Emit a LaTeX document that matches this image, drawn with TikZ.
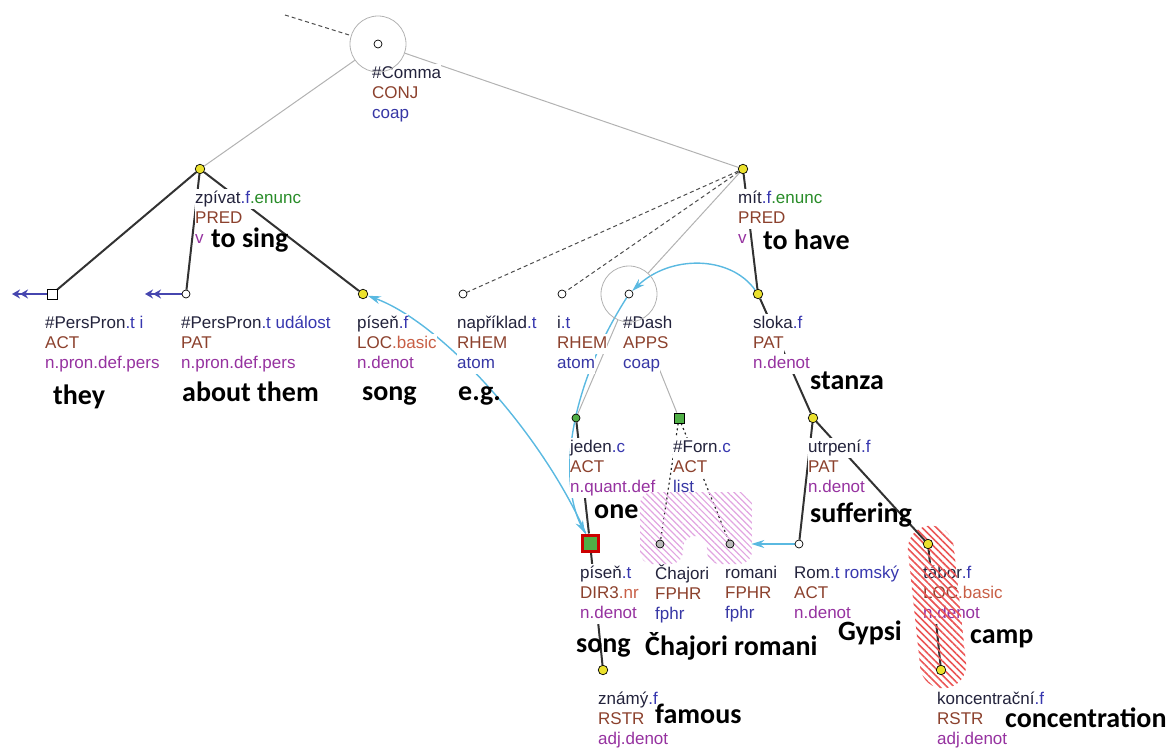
\documentclass[tikz,border=0pt]{standalone}
\usepackage{fontspec}
\setmainfont{Liberation Sans}
\newfontfamily\carl{Carlito}
\usetikzlibrary{arrows.meta,positioning,patterns.meta,shapes.misc}
\definecolor{lemc}{RGB}{35,35,60}
\definecolor{sufc}{RGB}{55,55,175}
\definecolor{envc}{RGB}{40,140,40}
\definecolor{func}{RGB}{140,65,45}
\definecolor{subc}{RGB}{200,95,70}
\definecolor{posc}{RGB}{150,50,160}
\definecolor{coac}{RGB}{55,55,165}
\definecolor{edgec}{RGB}{50,50,50}
\definecolor{auxc}{RGB}{178,178,178}
\definecolor{corefc}{RGB}{90,185,225}
\definecolor{ptrc}{RGB}{70,70,175}
\definecolor{nodey}{RGB}{235,225,45}
\definecolor{nodeg}{RGB}{80,175,70}
\definecolor{pinkh}{RGB}{225,165,225}
\definecolor{redh}{RGB}{235,85,85}
\newcommand{\wb}[1]{{\fboxsep=0pt\colorbox{white}{\strut#1}}}
\newcommand{\tlab}[3]{\wb{#1}\\\wb{#2}\\\wb{#3}}
\newcommand{\tlem}[1]{\textcolor{lemc}{#1}}
\newcommand{\tsuf}[1]{\textcolor{sufc}{#1}}
\newcommand{\tenv}[1]{\textcolor{envc}{#1}}
\newcommand{\tfun}[1]{\textcolor{func}{#1}}
\newcommand{\tsub}[1]{\textcolor{subc}{#1}}
\newcommand{\tpos}[1]{\textcolor{posc}{#1}}
\newcommand{\tcoa}[1]{\textcolor{coac}{#1}}
\pgfdeclarelayer{edges}
\pgfdeclarelayer{labels}
\pgfdeclarelayer{hatch}
\pgfsetlayers{edges,labels,hatch,main}

\begin{document}
\begin{tikzpicture}[x=1pt, y=-1pt,
    ydot/.style={circle, draw=black, line width=0.7pt, fill=nodey, inner sep=0pt, minimum size=9.5pt},
    wdot/.style={ydot, fill=white, minimum size=8pt},
    gdot/.style={ydot, fill=nodeg, minimum size=8pt},
    grdot/.style={ydot, fill=gray!55, minimum size=8pt},
    wsq/.style={rectangle, draw=black, line width=0.7pt, fill=white, inner sep=0pt, minimum size=10pt},
    gsq/.style={wsq, fill=nodeg},
    rsq/.style={rectangle, draw=red!80!black, line width=3pt, fill=nodeg, inner sep=0pt, minimum size=16pt},
    ring/.style={circle, draw=auxc, line width=0.8pt, inner sep=0pt, minimum size=56pt},
    lab/.style={align=left, inner sep=0pt, font=\fontsize{17}{20}\selectfont},
    eng/.style={anchor=base west, inner sep=0pt, font=\carl\bfseries\fontsize{28}{30}\selectfont},
    tedge/.style={draw=edgec, line width=2pt},
    auxe/.style={draw=auxc, line width=1pt},
    hide/.style={draw=gray!60!black, line width=1pt, dash pattern=on 4pt off 3pt},
    memb/.style={draw=gray!30!black, line width=1.2pt, dash pattern=on 2pt off 3pt},
    coref/.style={draw=corefc, line width=1.4pt, -{Stealth[length=13pt,width=8pt]}},
    ptr/.style={draw=ptrc, line width=1.4pt, -{Stealth[length=8pt,width=9pt]Stealth[length=8pt,width=9pt]}},
    pinkhatch/.style={pattern={Lines[angle=-45,distance=4.5pt,line width=1.2pt]}, pattern color=pinkh},
    redhatch/.style={pattern={Lines[angle=-45,distance=5pt,line width=1.6pt]}, pattern color=redh}]
    \useasboundingbox (0,0) rectangle (1176,751);
    % tree nodes
    \node[wdot] (comma) at (378,44) {};
    \node[ring] (comma-r) at (comma) {};
    \node[ydot] (zpivat) at (200,169) {};
    \node[ydot] (mit) at (743,169) {};
    \node[wsq] (ppi) at (52,294) {};
    \node[wdot] (ppu) at (186,294) {};
    \node[ydot] (pisenf) at (363,294) {};
    \node[wdot] (napr) at (463,294) {};
    \node[wdot] (it) at (562,294) {};
    \node[wdot] (dash) at (629,294) {};
    \node[ring] (dash-r) at (dash) {};
    \node[ydot] (sloka) at (758,294) {};
    \node[gdot] (jeden) at (576,418) {};
    \node[gsq] (forn) at (679,418) {};
    \node[ydot] (utrpeni) at (813,418) {};
    \node[rsq] (pisent) at (590,543) {};
    \node[grdot] (chaj) at (660,544) {};
    \node[grdot] (romani) at (730,544) {};
    \node[wdot] (rom) at (799,544) {};
    \node[ydot] (tabor) at (928,544) {};
    \node[ydot] (znamy) at (603,670) {};
    \node[ydot] (konc) at (941,670) {};
    \coordinate (comma-up) at (285,15);
    \coordinate (ppi-out) at (12,294);
    \coordinate (ppu-out) at (145,294);

    % node labels
    \begin{pgfonlayer}{labels}
    \node[lab, below right=20pt and -6pt of comma.center] (comma-l) {\tlab{\tlem{\#Comma}}{\tfun{CONJ}}{\tcoa{coap}}};
    \node[lab, below right=20pt and -5pt of zpivat.center] (zpivat-l) {\tlab{\tlem{zpívat}\tsuf{.f}\tenv{.enunc}}{\tfun{PRED}}{\tpos{v}}};
    \node[lab, below right=20pt and -5pt of mit.center] (mit-l) {\tlab{\tlem{mít}\tsuf{.f}\tenv{.enunc}}{\tfun{PRED}}{\tpos{v}}};
    \node[lab, below right=20pt and -7pt of ppi.center] (ppi-l) {\tlab{\tlem{\#PersPron}\tsuf{.t i}}{\tfun{ACT}}{\tpos{n.pron.def.pers}}};
    \node[lab, below right=20pt and -5pt of ppu.center] (ppu-l) {\tlab{\tlem{\#PersPron}\tsuf{.t událost}}{\tfun{PAT}}{\tpos{n.pron.def.pers}}};
    \node[lab, below right=20pt and -6pt of pisenf.center] (pisenf-l) {\tlab{\tlem{píseň}\tsuf{.f}}{\tfun{LOC}\tsub{.basic}}{\tpos{n.denot}}};
    \node[lab, below right=20pt and -6pt of napr.center] (napr-l) {\tlab{\tlem{například}\tsuf{.t}}{\tfun{RHEM}}{\tcoa{atom}}};
    \node[lab, below right=20pt and -5pt of it.center] (it-l) {\tlab{\tlem{i}\tsuf{.t}}{\tfun{RHEM}}{\tcoa{atom}}};
    \node[lab, below right=20pt and -6pt of dash.center] (dash-l) {\tlab{\tlem{\#Dash}}{\tfun{APPS}}{\tcoa{coap}}};
    \node[lab, below right=20pt and -5pt of sloka.center] (sloka-l) {\tlab{\tlem{sloka}\tsuf{.f}}{\tfun{PAT}}{\tpos{n.denot}}};
    \node[lab, below right=20pt and -6pt of jeden.center] (jeden-l) {\tlab{\tlem{jeden}\tsuf{.c}}{\tfun{ACT}}{\tpos{n.quant.def}}};
    \node[lab, below right=20pt and -6pt of forn.center] (forn-l) {\tlab{\tlem{\#Forn}\tsuf{.c}}{\tfun{ACT}}{\tcoa{list}}};
    \node[lab, below right=20pt and -5pt of utrpeni.center] (utrpeni-l) {\tlab{\tlem{utrpení}\tsuf{.f}}{\tfun{PAT}}{\tpos{n.denot}}};
    \node[lab, below right=21pt and -10pt of pisent.center] (pisent-l) {\tlab{\tlem{píseň}\tsuf{.t}}{\tfun{DIR3}\tsub{.nr}}{\tpos{n.denot}}};
    \node[lab, below right=20pt and -5pt of chaj.center] (chaj-l) {\tlab{\tlem{Čhajori}}{\tfun{FPHR}}{\tcoa{fphr}}};
    \node[lab, below right=20pt and -5pt of romani.center] (romani-l) {\tlab{\tlem{romani}}{\tfun{FPHR}}{\tcoa{fphr}}};
    \node[lab, below right=20pt and -5pt of rom.center] (rom-l) {\tlab{\tlem{Rom}\tsuf{.t romský}}{\tfun{ACT}}{\tpos{n.denot}}};
    \node[lab, below right=20pt and -5pt of tabor.center] (tabor-l) {\tlab{\tlem{tábor}\tsuf{.f}}{\tfun{LOC}\tsub{.basic}}{\tpos{n.denot}}};
    \node[lab, below right=20pt and -5pt of znamy.center] (znamy-l) {\tlab{\tlem{známý}\tsuf{.f}}{\tfun{RSTR}}{\tpos{adj.denot}}};
    \node[lab, below right=20pt and -4pt of konc.center] (konc-l) {\tlab{\tlem{koncentrační}\tsuf{.f}}{\tfun{RSTR}}{\tpos{adj.denot}}};
    \end{pgfonlayer}

    % edges
    \begin{pgfonlayer}{edges}
    \draw[hide] (comma-up) -- (comma-r);
    \draw[auxe] (comma-r) -- (zpivat);
    \draw[auxe] (comma-r) -- (mit);
    \draw[tedge] (zpivat) -- (ppi);
    \draw[tedge] (zpivat) -- (ppu);
    \draw[tedge] (zpivat) -- (pisenf);
    \draw[tedge] (mit) -- (sloka);
    \draw[hide] (mit) -- (napr);
    \draw[hide] (mit) -- (it);
    \draw[auxe] (mit) -- (dash-r);
    \draw[auxe] (dash-r) -- (jeden);
    \draw[auxe] (dash-r) -- (forn);
    \draw[tedge] (jeden) -- (pisent);
    \draw[memb] (forn) -- (chaj);
    \draw[memb] (forn) -- (romani);
    \draw[tedge] (sloka) -- (utrpeni);
    \draw[tedge] (utrpeni) -- (rom);
    \draw[tedge] (utrpeni) -- (tabor);
    \draw[tedge] (tabor) -- (konc);
    \draw[tedge] (pisent) -- (znamy);
    \draw[ptr] (ppi) -- (ppi-out);
    \draw[ptr] (ppu) -- (ppu-out);
    \draw[coref] (sloka) .. controls (730,255) and (670,255) .. (dash);
    \draw[coref] (pisent) .. controls (540,430) and (440,322) .. (pisenf);
    \draw[coref] (dash) .. controls (568,390) and (558,480) .. (pisent);
    \draw[coref, shorten >=17pt] (rom) -- (romani);
    \end{pgfonlayer}

    % highlighted groups
    \begin{pgfonlayer}{hatch}
    \path[pinkhatch, rounded corners=12pt] (640,492) -- (752,492) -- (752,564) -- (707,564)
        -- (707,536) -- (683,536) -- (683,564) -- (640,564) -- cycle;
    \node[redhatch, rounded rectangle, rotate=-84, minimum width=170pt, minimum height=46pt] (tabor-h) at (937,607) {};
    \end{pgfonlayer}

    % glosses
    \node[eng] (sing-e) at (211,248) {to sing};
    \node[eng] (have-e) at (763,250) {to have};
    \node[eng] (they-e) at (53,404) {they};
    \node[eng] (about-e) at (182,402) {about them};
    \node[eng] (song-e) at (362,400) {song};
    \node[eng] (eg-e) at (458,400) {e.g.};
    \node[eng] (stanza-e) at (810,389) {stanza};
    \node[eng] (one-e) at (594,518) {one};
    \node[eng] (suffer-e) at (810,522) {suffering};
    \node[eng] (song2-e) at (576,652) {song};
    \node[eng] (chaj-e) at (645,655) {Čhajori romani};
    \node[eng] (gypsi-e) at (838,640) {Gypsi};
    \node[eng] (camp-e) at (970,643) {camp};
    \node[eng] (famous-e) at (655,723) {famous};
    \node[eng] (conc-e) at (1005,727) {concentration};
\end{tikzpicture}
\end{document}
